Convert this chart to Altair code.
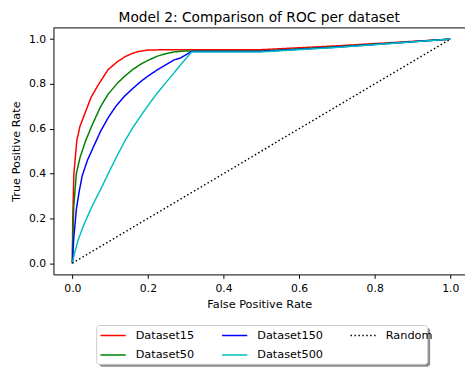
import altair as alt
import pandas as pd

# ---- data ----
series_names = ["Dataset15", "Dataset50", "Dataset150", "Dataset500", "Random"]

fpr15 = [0, 0.001, 0.004, 0.012, 0.02, 0.03, 0.05, 0.07, 0.095, 0.12, 0.14, 0.16, 0.175, 0.2, 0.25, 0.5, 0.7, 1.0]
tpr15 = [0, 0.20, 0.40, 0.55, 0.61, 0.655, 0.742, 0.80, 0.865, 0.90, 0.922, 0.937, 0.945, 0.951, 0.953, 0.953, 0.97, 1.0]

fpr50 = [0, 0.001, 0.0036, 0.0105, 0.02, 0.035, 0.052, 0.075, 0.095, 0.12, 0.139, 0.16, 0.182, 0.2, 0.225, 0.25, 0.27, 0.3, 0.5, 0.7, 1.0]
tpr50 = [0, 0.12, 0.25, 0.40, 0.47, 0.546, 0.615, 0.70, 0.755, 0.805, 0.835, 0.865, 0.889, 0.905, 0.924, 0.936, 0.943, 0.947, 0.947, 0.966, 1.0]

fpr150 = [0, 0.0036, 0.0105, 0.018, 0.026, 0.04, 0.056, 0.075, 0.095, 0.115, 0.139, 0.16, 0.182, 0.2, 0.225, 0.25, 0.269, 0.285, 0.299, 0.316, 0.5, 0.7, 1.0]
tpr150 = [0, 0.11, 0.24, 0.32, 0.39, 0.46, 0.52, 0.59, 0.65, 0.70, 0.747, 0.78, 0.812, 0.835, 0.863, 0.888, 0.907, 0.915, 0.929, 0.945, 0.945, 0.964, 1.0]

fpr500 = [0, 0.005, 0.0156, 0.03, 0.052, 0.075, 0.095, 0.117, 0.139, 0.16, 0.182, 0.205, 0.225, 0.247, 0.269, 0.29, 0.316, 0.5, 0.7, 1.0]
tpr500 = [0, 0.04, 0.105, 0.17, 0.254, 0.33, 0.40, 0.475, 0.546, 0.605, 0.66, 0.715, 0.76, 0.805, 0.849, 0.893, 0.943, 0.943, 0.963, 1.0]

fpr_rand = [0, 1.0]
tpr_rand = [0, 1.0]

x_ticks = [0.0, 0.2, 0.4, 0.6, 0.8, 1.0]
y_ticks = [0.0, 0.2, 0.4, 0.6, 0.8, 1.0]

rows = []
for name, xs, ys in zip(series_names,
                        [fpr15, fpr50, fpr150, fpr500, fpr_rand],
                        [tpr15, tpr50, tpr150, tpr500, tpr_rand]):
    for i, (x, y) in enumerate(zip(xs, ys)):
        rows.append({"series": name, "fpr": x, "tpr": y, "order": i})
df = pd.DataFrame(rows)

FONT = "DejaVu Sans"
W, H = 419, 251

color_map = {"Dataset15": "#ff0000", "Dataset50": "#008000", "Dataset150": "#0000ff",
             "Dataset500": "#00bfbf", "Random": "#000000"}
dash_map = {"Dataset15": [1, 0], "Dataset50": [1, 0], "Dataset150": [1, 0],
            "Dataset500": [1, 0], "Random": [1.5, 2.5]}

leg = alt.Legend(orient="none", legendX=46.7, legendY=299, columns=3, title=None,
                 symbolType="stroke", symbolSize=660, symbolStrokeWidth=1.5,
                 labelFont=FONT, labelFontSize=11.5, labelColor="black",
                 labelOffset=9, columnPadding=24.8, rowPadding=-7.3, padding=0)

lines = alt.Chart(df).mark_line(strokeWidth=1.5, clip=True).encode(
    x=alt.X("fpr:Q", scale=alt.Scale(domain=[-0.05, 1.039], nice=False, zero=False),
            axis=alt.Axis(values=x_ticks, format=".1f", title="False Positive Rate", grid=False,
                          tickSize=4, labelPadding=4, titlePadding=6)),
    y=alt.Y("tpr:Q", scale=alt.Scale(domain=[-0.05, 1.05], nice=False, zero=False),
            axis=alt.Axis(values=y_ticks, format=".1f", title="True Positive Rate", grid=False,
                          tickSize=4, labelPadding=4, titlePadding=7)),
    color=alt.Color("series:N", scale=alt.Scale(domain=series_names,
                                                range=[color_map[s] for s in series_names]),
                    legend=leg),
    strokeDash=alt.StrokeDash("series:N", scale=alt.Scale(domain=series_names,
                                                          range=[dash_map[s] for s in series_names]),
                              legend=leg),
    order="order:Q",
)

one = alt.Data(values=[{}])
top_spine = alt.Chart(one).mark_rule(color="black", strokeWidth=1).encode(
    x=alt.value(0), x2=alt.value(W), y=alt.value(0))
shadow = alt.Chart(one).mark_rect(fill="#8c8c8c", cornerRadius=3).encode(
    x=alt.value(46.5), x2=alt.value(383.5), y=alt.value(305.5), y2=alt.value(345))
box = alt.Chart(one).mark_rect(fill="white", stroke="#cccccc", strokeWidth=1, cornerRadius=3).encode(
    x=alt.value(44), x2=alt.value(381), y=alt.value(303), y2=alt.value(342.5))

chart = alt.layer(top_spine, lines, shadow, box).properties(
    width=W, height=H,
    autosize="none",
    padding={"left": 46.3, "top": 17, "right": 0, "bottom": 92},
    title=alt.TitleParams("Model 2: Comparison of ROC per dataset", font=FONT, fontSize=14,
                          fontWeight="normal", color="black", anchor="middle", offset=3),
).configure_view(stroke=None).configure_axis(
    labelFont=FONT, labelFontSize=11, labelColor="black",
    titleFont=FONT, titleFontSize=11.5, titleFontWeight="normal", titleColor="black",
    domainColor="black", tickColor="black", domainWidth=1, tickWidth=1,
)

chart.save("out.html", embed_options={"renderer": "svg", "actions": False})
